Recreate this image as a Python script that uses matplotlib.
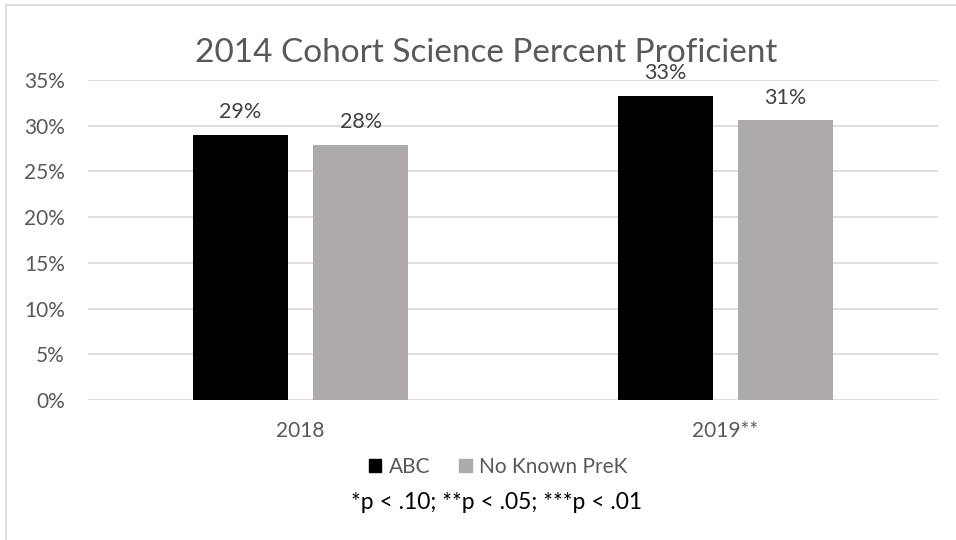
import matplotlib.pyplot as plt
import numpy as np
from matplotlib.lines import Line2D
from matplotlib.patches import Patch

plt.rcParams['font.family'] = ['Lato', 'DejaVu Sans']

years = ['2018', '2019**']
abc = [29.0, 33.3]
no_prek = [27.9, 30.6]
abc_labels = ['29%', '33%']
no_prek_labels = ['28%', '31%']
yticks = [0, 5, 10, 15, 20, 25, 30, 35]

fig = plt.figure(figsize=(9.56, 5.4), dpi=100)
ax = fig.add_axes([0.092, 0.2593, 0.889, 0.5926])

x = np.arange(len(years))
w = 0.2235
off = 0.142
b1 = ax.bar(x - off, abc, w, color='#000000', zorder=3)
b2 = ax.bar(x + off, no_prek, w, color='#AEAAAA', zorder=3)

# value labels above the bars
for bars, labels in [(b1, abc_labels), (b2, no_prek_labels)]:
    for bar, lab in zip(bars, labels):
        ax.annotate(lab, (bar.get_x() + bar.get_width() / 2, bar.get_height()),
                    xytext=(0, 9), textcoords='offset points', ha='center', va='bottom',
                    fontsize=15.5, color='#404040')

ax.set_xlim(-0.5, 1.5)
ax.set_ylim(0, 35)
ax.set_yticks(yticks)
ax.set_yticklabels([f'{t}%' for t in yticks])
ax.set_xticks(x)
ax.set_xticklabels(years)
ax.tick_params(axis='both', length=0, labelsize=15, colors='#595959')
ax.tick_params(axis='y', pad=16.5)
ax.tick_params(axis='x', pad=15)
ax.yaxis.grid(True, color='#D9D9D9', linewidth=1.2, zorder=0)
for s in ax.spines.values():
    s.set_visible(False)

fig.text(0.509, 0.902, '2014 Cohort Science Percent Proficient', ha='center', va='center',
         fontsize=24, color='#595959')

handles = [Patch(color='#000000', label='ABC'), Patch(color='#AEAAAA', label='No Known PreK')]
fig.legend(handles=handles, loc='center', bbox_to_anchor=(0.521, 0.135), ncol=2, frameon=False,
           fontsize=15, labelcolor='#595959', handlelength=0.6, handleheight=0.6,
           handletextpad=0.35, columnspacing=1.4)

fig.text(0.519, 0.069, '*p < .10; **p < .05; ***p < .01', ha='center', va='center',
         fontsize=16.5, color='#000000')

# chart border (top and left visible)
fig.add_artist(Line2D([6 / 956, 1], [1 - 5 / 540, 1 - 5 / 540], color='#D9D9D9', linewidth=1.2))
fig.add_artist(Line2D([6 / 956, 6 / 956], [0, 1 - 5 / 540], color='#D9D9D9', linewidth=1.2))

fig.savefig('out.png', dpi=100)
